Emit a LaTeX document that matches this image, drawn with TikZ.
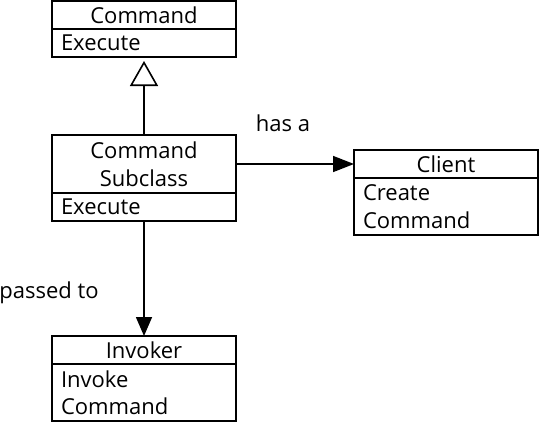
\documentclass[tikz,border=0pt]{standalone}
\usepackage{fontspec}
\setmainfont{Open Sans}
\usetikzlibrary{arrows.meta}
\usetikzlibrary{positioning}

\begin{document}
\begin{tikzpicture}[x=1pt, y=-1pt,
    every node/.style={font=\fontsize{22}{27.5}\selectfont},
    head/.style={draw, line width=1.6pt, outer sep=0pt, minimum width=184pt, inner sep=0pt, align=center},
    body/.style={draw, line width=1.6pt, outer sep=0pt, text width=166pt, inner xsep=9pt, inner ysep=0pt, align=left},
    label/.style={inner sep=0pt}]
    \useasboundingbox (0,0) rectangle (540,423);
    % abstract command
    \node[head, minimum height=28pt] (cmd) at (144,15) {Command};
    \node[body, minimum height=28pt, below=0pt of cmd] (cmdbody) {Execute};
    % concrete command
    \node[head, minimum height=58pt] (sub) at (144,164) {Command\\Subclass};
    \node[body, minimum height=28pt, below=0pt of sub] (subbody) {Execute};
    % client
    \node[head, minimum height=28pt] (client) at (446,164) {Client};
    \node[body, minimum height=57pt, below=0pt of client] (clientbody) {Create\\Command};
    % invoker
    \node[head, minimum height=28pt] (inv) at (144,350) {Invoker};
    \node[body, minimum height=57pt, below=0pt of inv] (invbody) {Invoke\\Command};
    % connectors
    \draw[line width=1.6pt, -{Triangle[open, length=25pt, width=28pt]}] (sub.north) -- ([yshift=-4pt]cmdbody.south);
    \draw[line width=1.6pt, -{Triangle[length=21pt, width=16pt]}] (sub.east) -- (client.west);
    \draw[line width=1.6pt, -{Triangle[length=19pt, width=16pt]}] (subbody.south) -- (inv.north);
    \node[label] (hasa) at (283,123) {has a};
    \node[label] (passed) at (49,293) {passed to};
\end{tikzpicture}
\end{document}
